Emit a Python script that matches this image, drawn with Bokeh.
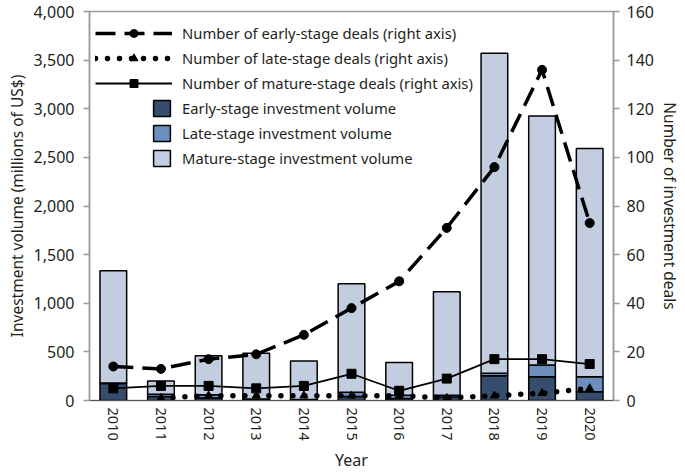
import math
from bokeh.plotting import figure
from bokeh.models import (Range1d, LinearAxis, FixedTicker, NumeralTickFormatter,
                          Legend, LegendItem, ColumnDataSource)
from bokeh.embed import file_html
from bokeh.resources import INLINE

years = [2010, 2011, 2012, 2013, 2014, 2015, 2016, 2017, 2018, 2019, 2020]
early_volume = [175, 40, 25, 10, 5, 40, 20, 35, 255, 245, 90]
late_volume = [5, 25, 35, 5, 5, 45, 35, 20, 25, 120, 155]
mature_volume = [1155, 135, 400, 472, 396, 1115, 335, 1062, 3290, 2560, 2345]
early_deals = [14, 13, 17, 19, 27, 38, 49, 71, 96, 136, 73]
late_deals = [float("nan"), 1, 2, 2, 2, 2, 2, 1, 2, 3, 5]
mature_deals = [5, 6, 6, 5, 6, 11, 4, 9, 17, 17, 15]
left_ticks = [0, 500, 1000, 1500, 2000, 2500, 3000, 3500, 4000]
right_ticks = [0, 20, 40, 60, 80, 100, 120, 140, 160]

FONT = "Noto Sans"
TXT = "#231f20"
AX = "#9a9a9a"
C_EARLY = "#374d6e"
C_LATE = "#6e8fbe"
C_MATURE = "#c3cde0"

FW, FH = 524, 389

src = ColumnDataSource(dict(year=years, early=early_volume, late=late_volume,
                            mature=mature_volume, ed=early_deals, ld=late_deals,
                            md=mature_deals))

p = figure(frame_width=FW, frame_height=FH, output_backend="svg", toolbar_location=None,
           x_range=Range1d(2009.5, 2020.5), y_range=Range1d(0, 4000),
           min_border_left=89, min_border_right=71, min_border_top=11,
           min_border_bottom=71)
p.extra_y_ranges = {"deals": Range1d(0, 160)}
p.grid.visible = False
p.outline_line_color = AX
p.outline_line_width = 1.5
p.background_fill_color = "white"
p.border_fill_color = "white"

bars = p.vbar_stack(["early", "late", "mature"], x="year", width=0.56, source=src,
                    fill_color=[C_EARLY, C_LATE, C_MATURE], line_color="black",
                    line_width=1.5)

l_early = p.line("year", "ed", source=src, y_range_name="deals", color="black",
                 line_width=3.5, line_dash="20 9")
m_early = p.scatter("year", "ed", source=src, y_range_name="deals", marker="circle",
                    size=9, color="black")
l_late = p.line("year", "ld", source=src, y_range_name="deals", color="black",
                line_width=5.5, line_dash="0 12", line_cap="round")
m_late = p.scatter("year", "ld", source=src, y_range_name="deals", marker="triangle",
                   size=8, color="black")
l_mat = p.line("year", "md", source=src, y_range_name="deals", color="black",
               line_width=1.8)
m_mat = p.scatter("year", "md", source=src, y_range_name="deals", marker="square",
                  size=9, color="black")

# left axis
ya = p.yaxis[0]
ya.ticker = FixedTicker(ticks=left_ticks)
ya.formatter = NumeralTickFormatter(format="0,0")
ya.axis_label = "Investment volume (millions of US$)"

# right axis
ra = LinearAxis(y_range_name="deals", ticker=FixedTicker(ticks=right_ticks),
                axis_label="Number of investment deals")
p.add_layout(ra, "right")

# x axis
xa = p.xaxis[0]
xa.ticker = FixedTicker(ticks=years)
xa.major_label_overrides = {y: str(y) for y in years}
xa.major_label_orientation = "vertical"
xa.axis_label = "Year"
xa.major_tick_out = 0
xa.major_tick_in = 0
xa.major_label_standoff = 7
xa.axis_label_standoff = 5
xa.axis_line_color = "#555555"
xa.axis_line_width = 1.2

for ax in [ya, ra]:
    ax.axis_line_color = AX
    ax.axis_line_width = 1.5
    ax.major_tick_line_color = AX
    ax.major_tick_line_width = 1.5
    ax.major_tick_out = 6
    ax.major_tick_in = 0
    ax.minor_tick_line_color = None
for ax in [ya, ra, xa]:
    ax.major_label_text_font = FONT
    ax.major_label_text_font_size = "16px"
    ax.major_label_text_color = TXT
    ax.axis_label_text_font = FONT
    ax.axis_label_text_font_size = "15.5px"
    ax.axis_label_text_font_style = "normal"
    ax.axis_label_text_color = TXT
xa.major_label_text_font_size = "14.5px"
xa.axis_label_text_font_size = "16px"
ya.major_label_standoff = 9
ra.major_label_standoff = 7
ya.axis_label_standoff = 3
ra.axis_label_standoff = 2

leg1 = Legend(items=[
    LegendItem(label="Number of early-stage deals (right axis)", renderers=[l_early, m_early]),
    LegendItem(label="Number of late-stage deals (right axis)", renderers=[l_late, m_late]),
    LegendItem(label="Number of mature-stage deals (right axis)", renderers=[l_mat, m_mat]),
], location=(6, FH - 12 - 70), glyph_width=77, glyph_height=20, label_height=20,
   spacing=5, padding=0, margin=0, label_standoff=10, border_line_color=None,
   background_fill_alpha=0)
leg2 = Legend(items=[
    LegendItem(label="Early-stage investment volume", renderers=[bars[0]]),
    LegendItem(label="Late-stage investment volume", renderers=[bars[1]]),
    LegendItem(label="Mature-stage investment volume", renderers=[bars[2]]),
], location=(62, FH - 87 - 70), glyph_width=21, glyph_height=20, label_height=20,
   spacing=5, padding=0, margin=0, label_standoff=10, border_line_color=None,
   background_fill_alpha=0)
for lg in [leg1, leg2]:
    lg.label_text_font = FONT
    lg.label_text_font_size = "14.8px"
    lg.label_text_color = TXT
    p.add_layout(lg)

open("out.html", "w").write(file_html(p, INLINE))
